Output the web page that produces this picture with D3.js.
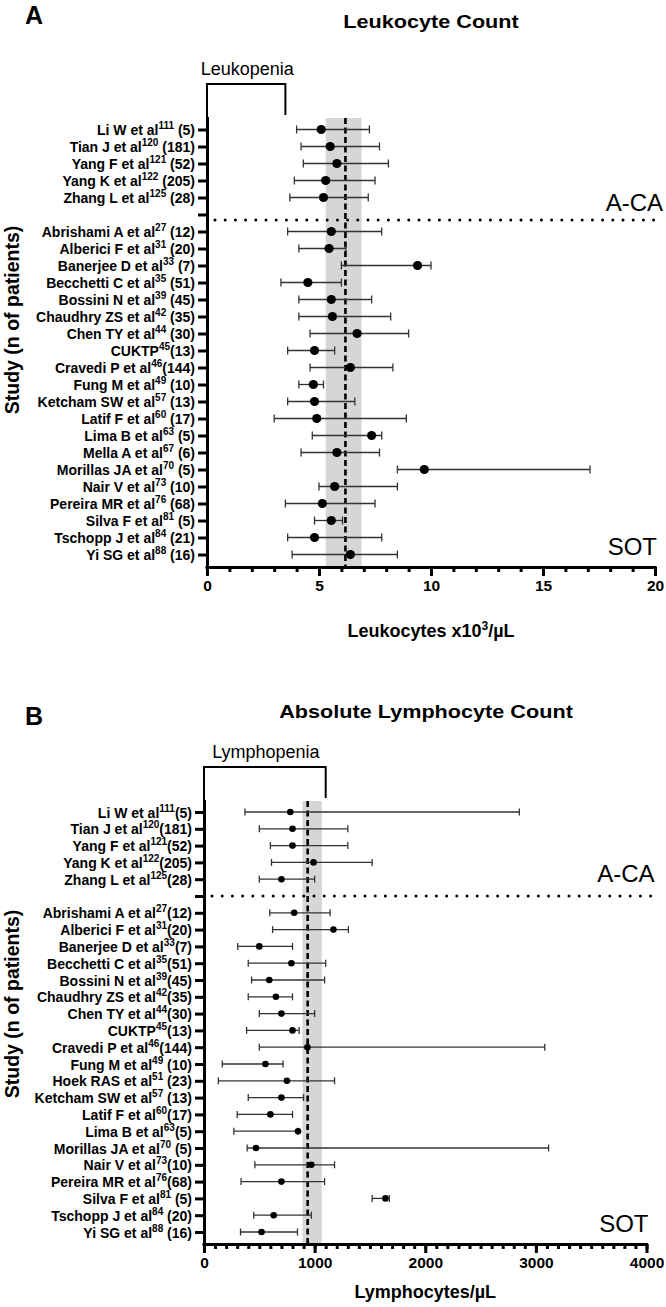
<!DOCTYPE html>
<html><head><meta charset="utf-8">
<script src="https://cdn.jsdelivr.net/npm/d3@7"></script>
<style>
body{margin:0;background:#fff}
svg{display:block;font-family:"Liberation Sans",Arial,Helvetica,sans-serif}
</style>
</head><body>
<svg id="c" width="666" height="1307"></svg>
<script>
// ---------- Panel A: Leukocyte count (x10^3/µL) ----------
const leukNames = ["Li W et al","Tian J et al","Yang F et al","Yang K et al","Zhang L et al","",
  "Abrishami A et al","Alberici F et al","Banerjee D et al","Becchetti C et al","Bossini N et al",
  "Chaudhry ZS et al","Chen TY et al","CUKTP","Cravedi P et al","Fung M et al","Ketcham SW et al",
  "Latif F et al","Lima B et al","Mella A et al","Morillas JA et al","Nair V et al","Pereira MR et al",
  "Silva F et al","Tschopp J et al","Yi SG et al"];
const leukRefs = ["111","120","121","122","125","","27","31","33","35","39","42","44","45","46","49","57","60","63","67","70","73","76","81","84","88"];
const leukN = [" (5)"," (181)"," (52)"," (205)"," (28)",""," (12)"," (20)"," (7)"," (51)"," (45)"," (35)"," (30)","(13)","(144)"," (10)"," (13)"," (17)"," (5)"," (6)"," (5)"," (10)"," (68)"," (5)"," (21)"," (16)"];
const leukMid  = [5.1,5.5,5.8,5.3,5.2,null,5.55,5.45,9.4,4.5,5.55,5.6,6.7,4.8,6.4,4.75,4.8,4.9,7.35,5.8,9.7,5.7,5.15,5.55,4.8,6.4];
const leukLow  = [4.0,4.2,4.3,3.9,3.7,null,3.6,4.1,6.0,3.3,4.1,4.1,4.6,3.6,4.6,4.1,3.6,3.0,4.7,4.2,8.5,5.0,3.5,4.8,3.6,3.8];
const leukHigh = [7.25,7.7,8.1,7.5,7.2,null,7.8,6.2,10.0,6.0,7.35,8.2,9.0,5.7,8.3,5.2,6.6,8.9,7.8,7.7,17.1,8.5,7.5,6.05,7.8,8.5];
const leukPooled = 6.18, leukCI = [5.3, 6.9], leukThreshold = 3.5;
const leukMajorTicks = [0,5,10,15,20];

// ---------- Panel B: Absolute lymphocyte count (/µL) ----------
const lymphNames = ["Li W et al","Tian J et al","Yang F et al","Yang K et al","Zhang L et al","",
  "Abrishami A et al","Alberici F et al","Banerjee D et al","Becchetti C et al","Bossini N et al",
  "Chaudhry ZS et al","Chen TY et al","CUKTP","Cravedi P et al","Fung M et al","Hoek RAS et al",
  "Ketcham SW et al","Latif F et al","Lima B et al","Morillas JA et al","Nair V et al","Pereira MR et al",
  "Silva F et al","Tschopp J et al","Yi SG et al"];
const lymphRefs = ["111","120","121","122","125","","27","31","33","35","39","42","44","45","46","49","51","57","60","63","70","73","76","81","84","88"];
const lymphN = ["(5)","(181)","(52)","(205)","(28)","","(12)","(20)","(7)","(51)","(45)","(35)","(30)","(13)","(144)"," (10)"," (23)"," (13)","(17)","(5)"," (5)","(10)","(68)"," (5)"," (20)"," (16)"];
const lymphMid  = [780,800,800,990,700,null,815,1170,500,790,590,650,700,800,935,555,750,700,600,850,470,970,700,1640,630,520];
const lymphLow  = [370,500,600,610,500,null,595,620,305,400,430,400,500,385,500,165,130,400,300,270,390,460,335,1520,450,330];
const lymphHigh = [2850,1300,1300,1520,1000,null,1140,1305,800,1100,1090,800,1000,860,3080,715,1180,900,800,850,3115,1180,1090,1675,970,845];
const lymphPooled = 937, lymphCI = [890, 1065], lymphThreshold = 1100;
const lymphMajorTicks = [0,1000,2000,3000,4000];

const svg = d3.select("#c");

function drawPanel(c) {
  const g = svg.append("g");
  const n = c.names.length;
  const x = d3.scaleLinear().domain([0, c.xmax]).range([c.x0, c.x1]);
  const y = d3.scalePoint().domain(d3.range(n)).range([c.yTop, c.yBot]).padding(c.pad);

  // panel letter and title
  g.append("text").attr("x", 25).attr("y", c.letterY).attr("font-size", 25).attr("font-weight", "bold").text(c.letter);
  g.append("text").attr("transform", `translate(${c.titleX},${c.titleY}) scale(1.17,1)`).attr("text-anchor", "middle")
    .attr("font-size", 18.5).attr("font-weight", "bold").text(c.title);

  // CI band
  g.append("rect").attr("x", x(c.ci[0])).attr("width", x(c.ci[1]) - x(c.ci[0]))
    .attr("y", c.yTop + 1).attr("height", c.yBot - c.yTop - 1).attr("fill", "#d6d6d6");

  // threshold bracket
  g.append("path")
    .attr("d", `M${x(0)},${c.yTop} V${c.brTop} H${x(c.threshold)} V${c.yTop - 2}`)
    .attr("fill", "none").attr("stroke", "#000").attr("stroke-width", 2);
  g.append("text").attr("x", (x(0) + x(c.threshold)) / 2 + 1).attr("y", c.brTop - 9)
    .attr("text-anchor", "middle").attr("font-size", 18).text(c.thrLabel);

  // separator dotted line
  const sepY = y(5) + c.sepOff;
  g.append("line").attr("x1", c.x0 + 8).attr("x2", c.x1 + 6).attr("y1", sepY).attr("y2", sepY)
    .attr("stroke", "#000").attr("stroke-width", 3).attr("stroke-linecap", "round")
    .attr("stroke-dasharray", "0,10.2");

  // pooled dashed line
  g.append("line").attr("x1", x(c.pooled)).attr("x2", x(c.pooled)).attr("y1", c.yTop + 1).attr("y2", c.yBot)
    .attr("stroke", "#000").attr("stroke-width", 2.6).attr("stroke-dasharray", "6,3.5");

  // error bars
  const idx = d3.range(n).filter(i => c.mid[i] !== null);
  const eb = g.append("g").attr("stroke", "#333").attr("stroke-width", 1.3);
  eb.selectAll("line.h").data(idx).join("line")
    .attr("x1", i => x(c.low[i])).attr("x2", i => x(c.high[i]))
    .attr("y1", i => y(i)).attr("y2", i => y(i));
  eb.selectAll("line.l").data(idx).join("line")
    .attr("x1", i => x(c.low[i])).attr("x2", i => x(c.low[i]))
    .attr("y1", i => y(i) - c.cap).attr("y2", i => y(i) + c.cap);
  eb.selectAll("line.r").data(idx).join("line")
    .attr("x1", i => x(c.high[i])).attr("x2", i => x(c.high[i]))
    .attr("y1", i => y(i) - c.cap).attr("y2", i => y(i) + c.cap);
  g.append("g").selectAll("circle").data(idx).join("circle")
    .attr("cx", i => x(c.mid[i])).attr("cy", i => y(i)).attr("r", c.r).attr("fill", "#000");

  // group labels
  g.append("text").attr("x", c.x1 + 8).attr("y", y(4) + c.acaOff).attr("text-anchor", "end")
    .attr("font-size", 24).text("A-CA");
  g.append("text").attr("x", c.x1 + 2).attr("y", y(n - 1)).attr("text-anchor", "end")
    .attr("font-size", 24).text("SOT");

  // x axis
  const minorG = g.append("g").attr("transform", `translate(0,${c.yBot})`)
    .call(d3.axisBottom(x).tickValues(d3.range(0, c.xmax + 1e-9, c.minorStep)).tickSize(5).tickSizeOuter(0).tickFormat(""));
  minorG.select(".domain").remove();
  minorG.selectAll("line").attr("stroke-width", 3);
  const xa = g.append("g").attr("transform", `translate(0,${c.yBot})`)
    .call(d3.axisBottom(x).tickValues(c.majorTicks).tickSize(9).tickSizeOuter(0).tickPadding(4).tickFormat(d3.format("d")));
  xa.select(".domain").attr("stroke-width", 3).attr("d", `M${c.x0 - 1.5},0.5H${c.x1 + 1.5}`);
  xa.selectAll("line").attr("stroke-width", 3);
  xa.selectAll("text").attr("font-size", 15.5).attr("font-weight", "bold").attr("font-family", null);

  // y axis
  const ya = g.append("g").attr("transform", `translate(${c.x0},0)`)
    .call(d3.axisLeft(y).tickSize(9).tickSizeOuter(0).tickPadding(3).tickFormat(""));
  ya.select(".domain").attr("stroke-width", 3).attr("d", `M0.5,${c.yTop}V${c.yBot + 1.5}`);
  ya.selectAll("line").attr("stroke-width", 3);
  ya.selectAll(".tick text").each(function (i) {
    const t = d3.select(this).attr("font-size", 14).attr("font-weight", "bold").attr("font-family", null).attr("dy", "0.36em");
    if (!c.names[i]) return;
    t.append("tspan").text(c.names[i]);
    t.append("tspan").attr("font-size", 10).attr("dy", -6).text(c.refs[i]);
    t.append("tspan").attr("dy", 6).text(c.ns[i]);
  });

  // axis titles
  const xt = g.append("text").attr("x", (c.x0 + c.x1) / 2).attr("y", c.xTitleY).attr("text-anchor", "middle")
    .attr("font-size", 18).attr("font-weight", "bold");
  c.xTitle.forEach(p => {
    const s = xt.append("tspan").text(p.t);
    if (p.sup) s.attr("font-size", 12).attr("dy", -7);
    if (p.after) s.attr("dy", 7);
  });
  g.append("text").attr("transform", `translate(19,${c.yTitleC}) rotate(-90)`).attr("text-anchor", "middle")
    .attr("font-size", 19.5).attr("font-weight", "bold").text("Study (n of patients)");
}

drawPanel({
  letter: "A", letterY: 24, title: "Leukocyte Count", titleX: 431, titleY: 28,
  names: leukNames, refs: leukRefs, ns: leukN, mid: leukMid, low: leukLow, high: leukHigh,
  pooled: leukPooled, ci: leukCI, threshold: leukThreshold, thrLabel: "Leukopenia",
  xmax: 20, minorStep: 1, majorTicks: leukMajorTicks,
  x0: 207, x1: 655, yTop: 117, yBot: 567, pad: 0.735, brTop: 84,
  sepOff: 5.5, acaOff: 14, cap: 4, r: 4.6, xTitleY: 637, yTitleC: 320,
  xTitle: [{t: "Leukocytes x10"}, {t: "3", sup: true}, {t: "/µL", after: true}]
});

drawPanel({
  letter: "B", letterY: 725, title: "Absolute Lymphocyte Count", titleX: 426, titleY: 718,
  names: lymphNames, refs: lymphRefs, ns: lymphN, mid: lymphMid, low: lymphLow, high: lymphHigh,
  pooled: lymphPooled, ci: lymphCI, threshold: lymphThreshold, thrLabel: "Lymphopenia",
  xmax: 4000, minorStep: 100, majorTicks: lymphMajorTicks,
  x0: 204, x1: 646.5, yTop: 800, yBot: 1244, pad: 0.714, brTop: 767,
  sepOff: 0, acaOff: 3, cap: 3.5, r: 3.3, xTitleY: 1298, yTitleC: 1004,
  xTitle: [{t: "Lymphocytes/µL"}]
});
</script>
</body></html>
